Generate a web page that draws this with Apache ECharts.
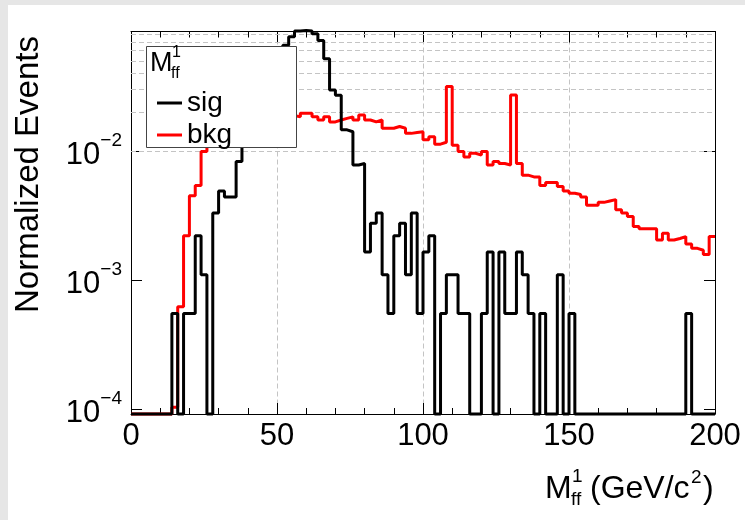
<!DOCTYPE html>
<html>
<head>
<meta charset="utf-8">
<script src="https://cdn.jsdelivr.net/npm/echarts@6/dist/echarts.min.js"></script>
<style>
html,body{margin:0;padding:0;background:#fff;}
#chart{width:745px;height:520px;}
</style>
</head>
<body>
<div id="chart"></div>
<script>
// ---- Data (2 GeV bins from 0 to 200) ----
const binEdges = [0,2,4,6,8,10,12,14,16,18,20,22,24,26,28,30,32,34,36,38,40,42,44,46,48,50,52,54,56,58,60,62,64,66,68,70,72,74,76,78,80,82,84,86,88,90,92,94,96,98,100,102,104,106,108,110,112,114,116,118,120,122,124,126,128,130,132,134,136,138,140,142,144,146,148,150,152,154,156,158,160,162,164,166,168,170,172,174,176,178,180,182,184,186,188,190,192,194,196,198,200];

const sigValues = [
  0,0,0,0,0,0,0,0.00055,0,0.00055,
  0.00055,0.0022,0.0011,0,0.0033,0.0049,0.0044,0.0044,0.0083,0.0121,
  0.016,0.021,0.028,0.036,0.046,0.056,0.066,0.077,0.085,0.086,
  0.085,0.081,0.072,0.052,0.0297,0.027,0.0146,0.0141,0.0078,0.0080,
  0.00165,0.00275,0.0033,0.0011,0.00055,0.0022,0.00275,0.0011,0.0033,0.00055,
  0.00165,0.0022,0,0.00055,0.0011,0.0011,0.00055,0.00055,0,0,
  0.00055,0.00165,0,0.00165,0.00055,0.00055,0.00165,0.0011,0.00055,0,
  0.00055,0,0,0.0011,0,0.00055,0,0,0,0,
  0,0,0,0,0,0,0,0,0,0,
  0,0,0,0,0,0.00055,0,0,0,0
];

const bkgValues = [
  0,0,0,0,0,0,0,0.000103,0.00062,0.0022,
  0.0045,0.0054,0.0099,0.0125,0.014,0.0155,0.0165,0.0175,0.018,0.0185,
  0.019,0.0195,0.0195,0.0195,0.019,0.0195,0.019,0.0188,0.0184,0.0196,
  0.0196,0.0184,0.0174,0.0184,0.0168,0.0174,0.0179,0.0184,0.0174,0.019,
  0.0174,0.0168,0.0174,0.015,0.015,0.0155,0.015,0.0137,0.0139,0.0141,
  0.0122,0.0129,0.0113,0.0117,0.0316,0.0111,0.0099,0.0090,0.0096,0.0093,
  0.0099,0.0078,0.0083,0.0080,0.0078,0.0272,0.0080,0.0065,0.0063,0.0063,
  0.0054,0.0057,0.0057,0.0053,0.0049,0.0047,0.0046,0.0044,0.0038,0.0038,
  0.0040,0.0041,0.0042,0.0035,0.0033,0.0031,0.0026,0.0025,0.0025,0.0025,
  0.00204,0.0023,0.00204,0.0021,0.00217,0.0019,0.00176,0.0017,0.00158,0.00217
];

const seriesNames = ['sig', 'bkg'];
const xTickLabels = ['0', '50', '100', '150', '200'];
const yMajorTicks = [1e-4, 1e-3, 1e-2];
const yMinorGrid = [2e-4,3e-4,4e-4,5e-4,6e-4,7e-4,8e-4,9e-4,2e-3,3e-3,4e-3,5e-3,6e-3,7e-3,8e-3,9e-3,2e-2,3e-2,4e-2,5e-2,6e-2,7e-2,8e-2];

// ---- Layout / style ----
const Y_MIN = 9.15e-5, Y_MAX = 0.0844;
const FONT = '"Liberation Sans", Arial, Helvetica, sans-serif';

function histData(values) {
  const out = [];
  for (let i = 0; i < values.length; i++) {
    const v = values[i] > 0 ? values[i] : Y_MIN; // empty bins drawn on the frame floor
    out.push([binEdges[i], v]);
  }
  const last = values[values.length - 1];
  out.push([binEdges[binEdges.length - 1], last > 0 ? last : Y_MIN]);
  return out;
}

function yLabel(v) {
  const e = Math.log10(v);
  const r = Math.round(e);
  if (Math.abs(e - r) < 1e-6) {
    return '{b|10}{s|' + (r < 0 ? '\u2212' : '') + Math.abs(r) + '}';
  }
  return '';
}

const gridLineStyle = { color: '#c4c4c4', width: 1, type: [5, 3] };

const chart = echarts.init(document.getElementById('chart'), null, { renderer: 'canvas' });

chart.setOption({
  backgroundColor: '#ffffff',
  animation: false,
  textStyle: { fontFamily: FONT },
  grid: { left: 131, right: 30, top: 31.5, bottom: 106, containLabel: false },
  xAxis: [{
    type: 'value', min: 0, max: 200, interval: 50,
    axisLine: { show: true, onZero: false, lineStyle: { color: '#000', width: 1 } },
    axisTick: { show: true, inside: true, length: 11, lineStyle: { color: '#000' } },
    minorTick: { show: true, splitNumber: 5, length: 6, lineStyle: { color: '#000' } },
    axisLabel: {
      show: true, margin: 7, fontSize: 31, color: '#000', fontFamily: FONT,
      formatter: (v) => xTickLabels[xTickLabels.indexOf(String(v))] || String(v)
    },
    splitLine: { show: true, lineStyle: gridLineStyle }
  }, {
    type: 'value', min: 0, max: 200, interval: 50, position: 'top',
    axisLine: { show: true, onZero: false, lineStyle: { color: '#000', width: 1 } },
    axisTick: { show: true, inside: true, length: 11, lineStyle: { color: '#000' } },
    minorTick: { show: true, splitNumber: 5, length: 6, lineStyle: { color: '#000' } },
    axisLabel: { show: false },
    splitLine: { show: false }
  }],
  yAxis: [{
    type: 'log', logBase: 10, min: Y_MIN, max: Y_MAX,
    axisLine: { show: true, onZero: false, lineStyle: { color: '#000', width: 1 } },
    axisTick: { show: true, inside: true, length: 11, lineStyle: { color: '#000' } },
    axisLabel: {
      show: true, margin: 9, color: '#000', fontFamily: FONT,
      formatter: yLabel,
      rich: {
        b: { fontSize: 31, lineHeight: 40, verticalAlign: 'bottom', fontFamily: FONT, color: '#000' },
        s: { fontSize: 19, lineHeight: 18, verticalAlign: 'top', fontFamily: FONT, color: '#000' }
      }
    },
    splitLine: { show: false }
  }, {
    type: 'log', logBase: 10, min: Y_MIN, max: Y_MAX, position: 'right',
    axisLine: { show: true, onZero: false, lineStyle: { color: '#000', width: 1 } },
    axisTick: { show: true, inside: true, length: 11, lineStyle: { color: '#000' } },
    axisLabel: { show: false },
    splitLine: { show: false }
  }],
  legend: {
    show: true, orient: 'vertical', left: 152, top: 82, z: 101,
    itemWidth: 25, itemHeight: 3, itemGap: 0, icon: 'rect',
    data: seriesNames,
    textStyle: { fontSize: 28, lineHeight: 32, color: '#000', fontFamily: FONT },
    selectedMode: false
  },
  series: [{
    name: 'grid', type: 'line', data: [], silent: true, z: 1,
    markLine: {
      silent: true, symbol: 'none', z: 1, animation: false,
      label: { show: false },
      lineStyle: gridLineStyle,
      data: yMajorTicks.concat(yMinorGrid).map(v => ({ yAxis: v }))
    }
  }, {
    name: seriesNames[1], type: 'line', step: 'end', showSymbol: false, symbol: 'none',
    clip: false, z: 3,
    data: histData(bkgValues),
    lineStyle: { color: '#ff0000', width: 3 }, itemStyle: { color: '#ff0000' }
  }, {
    name: seriesNames[0], type: 'line', step: 'end', showSymbol: false, symbol: 'none',
    clip: false, z: 4,
    data: histData(sigValues),
    lineStyle: { color: '#000000', width: 3 }, itemStyle: { color: '#000000' }
  }],
  graphic: [
    { type: 'rect', z: 0, silent: true, shape: { x: 0, y: 0, width: 8, height: 520 }, style: { fill: '#e6e6e6' } },
    { type: 'rect', z: 0, silent: true, shape: { x: 0, y: 0, width: 745, height: 5 }, style: { fill: '#e6e6e6' } },
    // legend frame and header
    { type: 'rect', z: 100, silent: true, shape: { x: 146.5, y: 46.5, width: 150, height: 101 }, style: { fill: '#fff', stroke: '#444', lineWidth: 1 } },
    { type: 'text', z: 101, silent: true, left: 150, top: 50, style: { text: 'M', fontSize: 27, fontFamily: FONT, fill: '#000' } },
    { type: 'text', z: 101, silent: true, left: 172, top: 45, style: { text: '1', fontSize: 16, fontFamily: FONT, fill: '#000' } },
    { type: 'text', z: 101, silent: true, left: 171, top: 66, style: { text: 'ff', fontSize: 16, fontFamily: FONT, fill: '#000' } },
    // y axis title
    { type: 'text', z: 5, silent: true, x: 12, y: 313, rotation: Math.PI / 2,
      style: { text: 'Normalized Events', fontSize: 33, fontFamily: FONT, fill: '#000', textAlign: 'left', textVerticalAlign: 'top' } },
    // x axis title
    { type: 'text', z: 5, silent: true, left: 545, top: 473, style: { text: 'M', fontSize: 32, fontFamily: FONT, fill: '#000' } },
    { type: 'text', z: 5, silent: true, left: 572, top: 467, style: { text: '1', fontSize: 19, fontFamily: FONT, fill: '#000' } },
    { type: 'text', z: 5, silent: true, left: 571, top: 490, style: { text: 'ff', fontSize: 19, fontFamily: FONT, fill: '#000' } },
    { type: 'text', z: 5, silent: true, left: 590, top: 473, style: { text: '(GeV/c', fontSize: 32, fontFamily: FONT, fill: '#000' } },
    { type: 'text', z: 5, silent: true, left: 691, top: 468, style: { text: '2', fontSize: 19, fontFamily: FONT, fill: '#000' } },
    { type: 'text', z: 5, silent: true, left: 703, top: 473, style: { text: ')', fontSize: 32, fontFamily: FONT, fill: '#000' } }
  ]
});
</script>
</body>
</html>
